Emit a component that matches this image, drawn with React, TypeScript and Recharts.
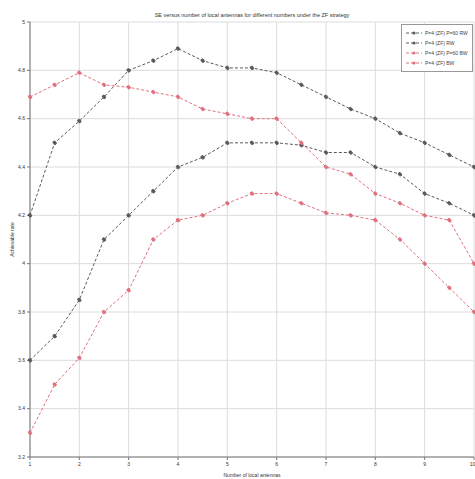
import { LineChart, Line, XAxis, YAxis, CartesianGrid, Legend } from 'recharts';

const xValues = [1, 1.5, 2, 2.5, 3, 3.5, 4, 4.5, 5, 5.5, 6, 6.5, 7, 7.5, 8, 8.5, 9, 9.5, 10];
const seriesA = [4.2, 4.5, 4.59, 4.69, 4.8, 4.84, 4.89, 4.84, 4.81, 4.81, 4.79, 4.74, 4.69, 4.64, 4.6, 4.54, 4.5, 4.45, 4.4];
const seriesB = [4.69, 4.74, 4.79, 4.74, 4.73, 4.71, 4.69, 4.64, 4.62, 4.6, 4.6, 4.5, 4.4, 4.37, 4.29, 4.25, 4.2, 4.18, 4.0];
const seriesC = [3.6, 3.7, 3.85, 4.1, 4.2, 4.3, 4.4, 4.44, 4.5, 4.5, 4.5, 4.49, 4.46, 4.46, 4.4, 4.37, 4.29, 4.25, 4.2];
const seriesD = [3.3, 3.5, 3.61, 3.8, 3.89, 4.1, 4.18, 4.2, 4.25, 4.29, 4.29, 4.25, 4.21, 4.2, 4.18, 4.1, 4.0, 3.9, 3.8];

const xTicks = [1, 2, 3, 4, 5, 6, 7, 8, 9, 10];
const yTicks = [3.2, 3.4, 3.6, 3.8, 4, 4.2, 4.4, 4.6, 4.8, 5];

const seriesNames = ['P=4 (ZF) P=60 RW', 'P=4 (ZF) RW', 'P=4 (ZF) P=60 BW', 'P=4 (ZF) BW'];

const DARK = '#5a5a5a';
const RED = '#e0707e';

const data = xValues.map((x, i) => ({
    x,
    a: seriesA[i],
    b: seriesB[i],
    c: seriesC[i],
    d: seriesD[i],
}));

const legendItems = [
    { key: 'a', name: seriesNames[0], color: DARK },
    { key: 'c', name: seriesNames[1], color: DARK },
    { key: 'b', name: seriesNames[2], color: RED },
    { key: 'd', name: seriesNames[3], color: RED },
];

function LegendBox() {
    return (
        <div
            style={{
                border: '1px solid #999',
                background: '#fff',
                padding: '3px 4px',
                fontFamily: 'Liberation Sans, Arial, sans-serif',
                fontSize: 5,
                color: '#444',
                lineHeight: '10px',
                boxSizing: 'border-box',
            }}
        >
            {legendItems.map((item) => (
                <div key={item.key} style={{ display: 'flex', alignItems: 'center', height: 10 }}>
                    <svg width={16} height={6} style={{ marginRight: 3 }}>
                        <line x1={0} y1={3} x2={16} y2={3} stroke={item.color} strokeWidth={1} strokeDasharray="3 2" />
                        <circle cx={8} cy={3} r={1.6} fill={item.color} />
                    </svg>
                    <span>{item.name}</span>
                </div>
            ))}
        </div>
    );
}

const tickStyle = { fontSize: 5, fill: '#333', fontFamily: 'Liberation Sans, Arial, sans-serif' };

export default function App() {
    return (
        <div style={{ position: 'absolute', left: 0, top: 0, width: 475, height: 479, background: '#fff' }}>
            <div
                style={{
                    position: 'absolute',
                    left: 0,
                    top: 12,
                    width: 504,
                    textAlign: 'center',
                    fontFamily: 'Liberation Sans, Arial, sans-serif',
                    fontSize: 5.5,
                    color: '#333',
                }}
            >
                SE versus number of local antennas for different numbers under the ZF strategy
            </div>
            <LineChart width={475} height={479} data={data} margin={{ top: 22, right: 1, left: 0, bottom: 0 }}>
                <CartesianGrid stroke="#dcdcdc" strokeWidth={1} />
                <XAxis
                    dataKey="x"
                    type="number"
                    domain={[1, 10]}
                    ticks={xTicks}
                    height={22}
                    tick={tickStyle}
                    tickSize={3}
                    stroke="#777"
                    label={{ value: 'Number of local antennas', position: 'insideBottom', offset: 2, style: { ...tickStyle } }}
                />
                <YAxis
                    type="number"
                    domain={[3.2, 5]}
                    ticks={yTicks}
                    width={30}
                    tick={tickStyle}
                    tickSize={3}
                    stroke="#777"
                    allowDataOverflow
                    label={{
                        value: 'Achievable rate',
                        angle: -90,
                        position: 'insideLeft',
                        offset: 12,
                        style: { ...tickStyle, textAnchor: 'middle' },
                    }}
                />
                <Legend
                    content={<LegendBox />}
                    layout="horizontal"
                    verticalAlign="middle"
                    align="center"
                    wrapperStyle={{ position: 'absolute', top: 24, left: 401, width: 72 }}
                />
                <Line dataKey="a" name={seriesNames[0]} stroke={DARK} strokeWidth={1} strokeDasharray="3 2"
                    dot={{ r: 1.8, fill: DARK, stroke: DARK }} isAnimationActive={false} />
                <Line dataKey="c" name={seriesNames[1]} stroke={DARK} strokeWidth={1} strokeDasharray="3 2"
                    dot={{ r: 1.8, fill: DARK, stroke: DARK }} isAnimationActive={false} />
                <Line dataKey="b" name={seriesNames[2]} stroke={RED} strokeWidth={1} strokeDasharray="3 2"
                    dot={{ r: 1.8, fill: RED, stroke: RED }} isAnimationActive={false} />
                <Line dataKey="d" name={seriesNames[3]} stroke={RED} strokeWidth={1} strokeDasharray="3 2"
                    dot={{ r: 1.8, fill: RED, stroke: RED }} isAnimationActive={false} />
            </LineChart>
        </div>
    );
}
